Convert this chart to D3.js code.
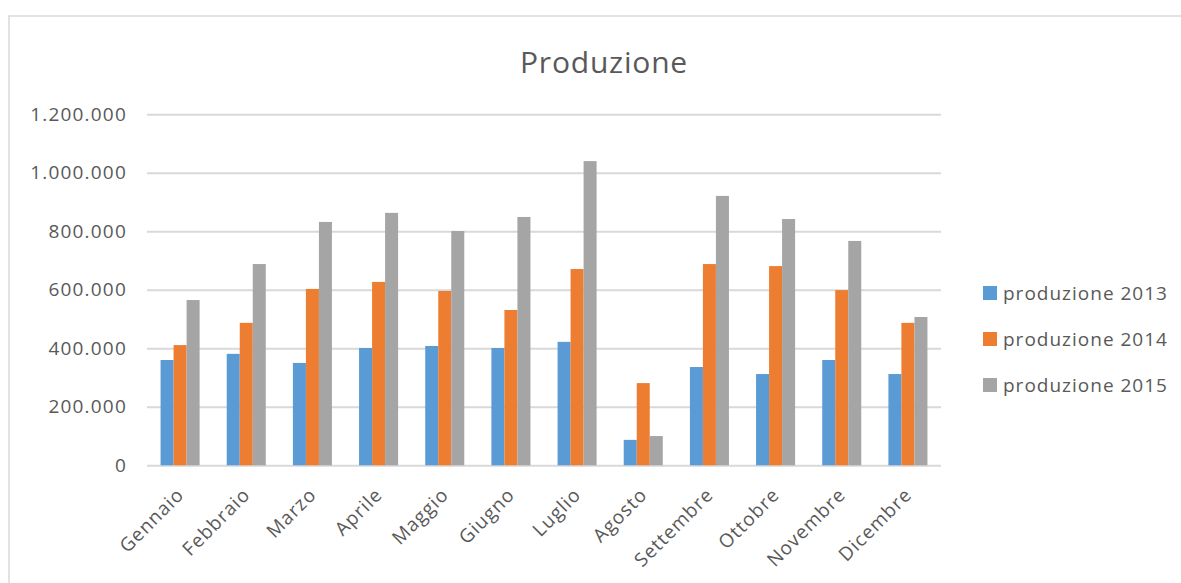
<!DOCTYPE html>
<html>
<head>
<meta charset="utf-8">
<script src="https://cdn.jsdelivr.net/npm/d3@7"></script>
<style>
body{margin:0;background:#fff;}
svg{display:block;font-family:'Open Sans',sans-serif;}
</style>
</head>
<body>
<script>
var months=['Gennaio','Febbraio','Marzo','Aprile','Maggio','Giugno','Luglio','Agosto','Settembre','Ottobre','Novembre','Dicembre'];
var seriesNames=['produzione 2013','produzione 2014','produzione 2015'];
var prod2013=[360000,381000,350000,401000,408000,401000,422000,87000,336000,312000,360000,312000];
var prod2014=[411000,487000,603000,627000,596000,531000,671000,281000,688000,681000,599000,487000];
var prod2015=[565000,688000,832000,863000,801000,849000,1040000,100000,921000,842000,767000,507000];
var yTicks=[0,200000,400000,600000,800000,1000000,1200000];
var colors=['#5B9BD5','#ED7D31','#A5A5A5'];

var width=1181,height=583;
var series=[prod2013,prod2014,prod2015];

var svg=d3.select('body').append('svg')
.attr('width',width)
.attr('height',height);

// chart border (only top and left are inside the picture)
svg.append('rect')
.attr('x',9).attr('y',16)
.attr('width',1250).attr('height',600)
.attr('fill','none')
.attr('stroke','#d9d9d9')
.attr('stroke-width',1.5);

svg.append('text')
.attr('x',604).attr('y',73)
.attr('text-anchor','middle')
.style('font-size','30px')
.style('letter-spacing','0.8px')
.style('fill','#595959')
.text('Produzione');

var xScale=d3.scaleBand()
.domain(months)
.range([147,941])
.paddingInner(0.41)
.paddingOuter(0.205);

var xInner=d3.scaleBand()
.domain([0,1,2])
.range([0,xScale.bandwidth()]);

var yScale=d3.scaleLinear()
.domain([0,1200000])
.range([465.3,114.3]);

var fmt=function(d){return d3.format(',')(d).replace(/,/g,'.');};

var yAxis=d3.axisLeft(yScale)
.tickValues(yTicks)
.tickSize(-(941-147))
.tickPadding(20)
.tickFormat(fmt);

var yG=svg.append('g')
.attr('transform','translate(147,0)')
.call(yAxis);
yG.select('.domain').remove();
yG.selectAll('.tick line').attr('stroke','#d9d9d9').attr('stroke-width',2);
yG.selectAll('.tick text')
.style('font-size','19px')
.style('letter-spacing','1.2px')
.style('font-family','Open Sans')
.style('fill','#595959');

var groups=svg.append('g').selectAll('g')
.data(months)
.enter()
.append('g')
.attr('transform',function(d){return 'translate('+xScale(d)+',0)';});

groups.selectAll('rect')
.data(function(d,i){return series.map(function(s,k){return {k:k,v:s[i]};});})
.enter()
.append('rect')
.attr('x',function(d){return xInner(d.k);})
.attr('width',xInner.bandwidth())
.attr('y',function(d){return yScale(d.v);})
.attr('height',function(d){return yScale(0)-yScale(d.v);})
.attr('fill',function(d){return colors[d.k];});

var xAxis=d3.axisBottom(xScale).tickSize(0).tickPadding(0);
var xG=svg.append('g')
.attr('transform','translate(0,465)')
.call(xAxis);
xG.select('.domain').remove();
xG.selectAll('.tick text')
.attr('text-anchor','end')
.attr('dy',0)
.attr('transform','translate(5,31) rotate(-45)')
.style('font-size','19px')
.style('letter-spacing','1px')
.style('font-family','Open Sans')
.style('fill','#595959');

var legend=svg.append('g').selectAll('g')
.data(seriesNames)
.enter()
.append('g')
.attr('transform',function(d,i){return 'translate(983,'+(293+i*46)+')';});

legend.append('rect')
.attr('x',0).attr('y',-7)
.attr('width',14).attr('height',14)
.attr('fill',function(d,i){return colors[i];});

legend.append('text')
.attr('x',20).attr('y',0)
.attr('dy','0.35em')
.style('font-size','19px')
.style('letter-spacing','1px')
.style('fill','#595959')
.text(function(d){return d;});
</script>
</body>
</html>
